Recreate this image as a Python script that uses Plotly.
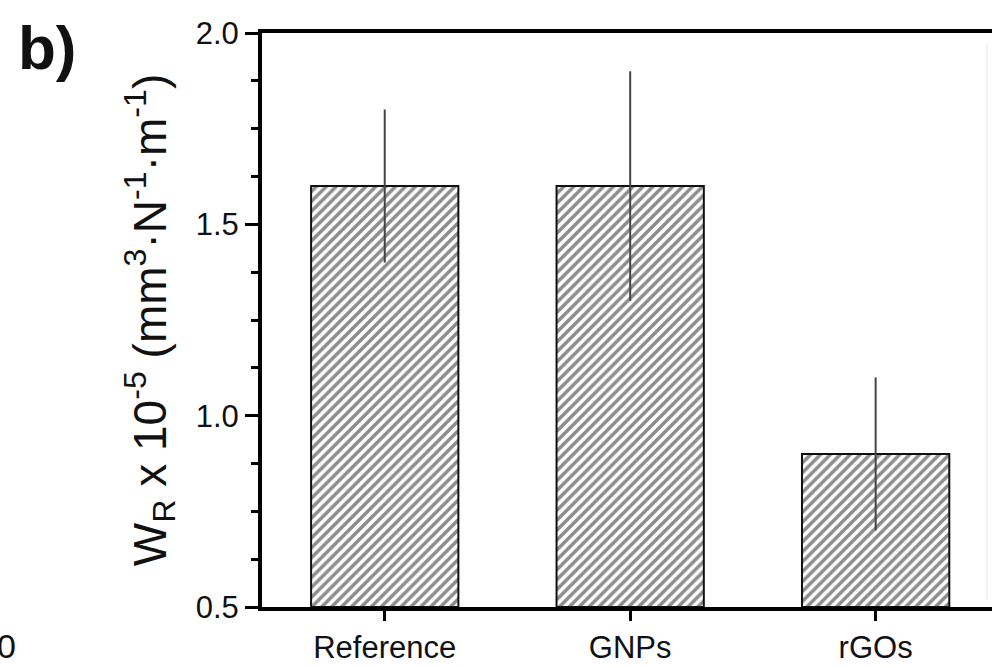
import plotly.graph_objects as go

categories = ["Reference", "GNPs", "rGOs"]
values = [1.6, 1.6, 0.9]
errors = [0.2, 0.3, 0.2]
y_ticks = [0.5, 1.0, 1.5, 2.0]
y_tick_labels = ["0.5", "1.0", "1.5", "2.0"]

FONT = "Liberation Sans, Arial, sans-serif"
W, H = 992, 667
L, R, T, B = 262, 0, 33, 60
pw = W - L - R
ph = H - T - B

def px_x(px):
    return (px - L) / pw

def px_y(py):
    return (H - B - py) / ph

fig = go.Figure()
fig.add_trace(go.Bar(
    x=[0, 1, 2],
    y=[v - 0.5 for v in values],
    base=0.5,
    width=0.6,
    marker=dict(
        color="white",
        line=dict(color="#111111", width=2),
        pattern=dict(shape="/", fgcolor="#1a1a1a", bgcolor="white", size=7, solidity=0.5),
    ),
    error_y=dict(type="data", array=errors, visible=True, color="#444444", thickness=2, width=0),
    showlegend=False,
))

fig.update_layout(
    width=W, height=H,
    margin=dict(l=L, r=R, t=T, b=B, pad=0),
    plot_bgcolor="white", paper_bgcolor="white",
    font=dict(family=FONT, size=32, color="#111111"),
    xaxis=dict(
        range=[-0.5, 2.474],
        tickvals=[0, 1, 2], ticktext=categories,
        showline=True, linecolor="black", linewidth=4, mirror=True,
        ticks="outside", ticklen=10, tickwidth=3, tickcolor="black",
        showgrid=False, zeroline=False, automargin=False,
        tickfont=dict(family=FONT, size=31, color="#111111"),
    ),
    yaxis=dict(
        range=[0.5, 2.0],
        tickvals=y_ticks, ticktext=y_tick_labels,
        showline=True, linecolor="black", linewidth=4,
        ticks="outside", ticklen=13, tickwidth=3, tickcolor="black",
        minor=dict(dtick=0.125, tick0=0.5, ticks="outside", ticklen=7, tickwidth=3, tickcolor="black", showgrid=False),
        showgrid=False, zeroline=False, automargin=False,
        tickfont=dict(family=FONT, size=31, color="#111111"),
        title=dict(
            text="W<sub>R</sub> x 10<sup>-5</sup> (mm<sup>3</sup>·N<sup>-1</sup>·m<sup>-1</sup>)",
            font=dict(family=FONT, size=46, color="#111111"),
            standoff=16,
        ),
    ),
    annotations=[
        dict(text="<b>b)</b>", xref="paper", yref="paper", x=px_x(16), y=px_y(47),
             xanchor="left", yanchor="middle", showarrow=False,
             font=dict(family=FONT, size=62, color="#111111")),
        dict(text="0", xref="paper", yref="paper", x=px_x(18), y=px_y(646),
             xanchor="right", yanchor="middle", showarrow=False,
             font=dict(family=FONT, size=34, color="#111111")),
    ],
    shapes=[
        dict(type="line", xref="paper", yref="paper", x0=px_x(987), x1=px_x(987),
             y0=px_y(43), y1=px_y(600), line=dict(color="#e4e4e4", width=1)),
    ],
)

fig.write_html("out.html")
